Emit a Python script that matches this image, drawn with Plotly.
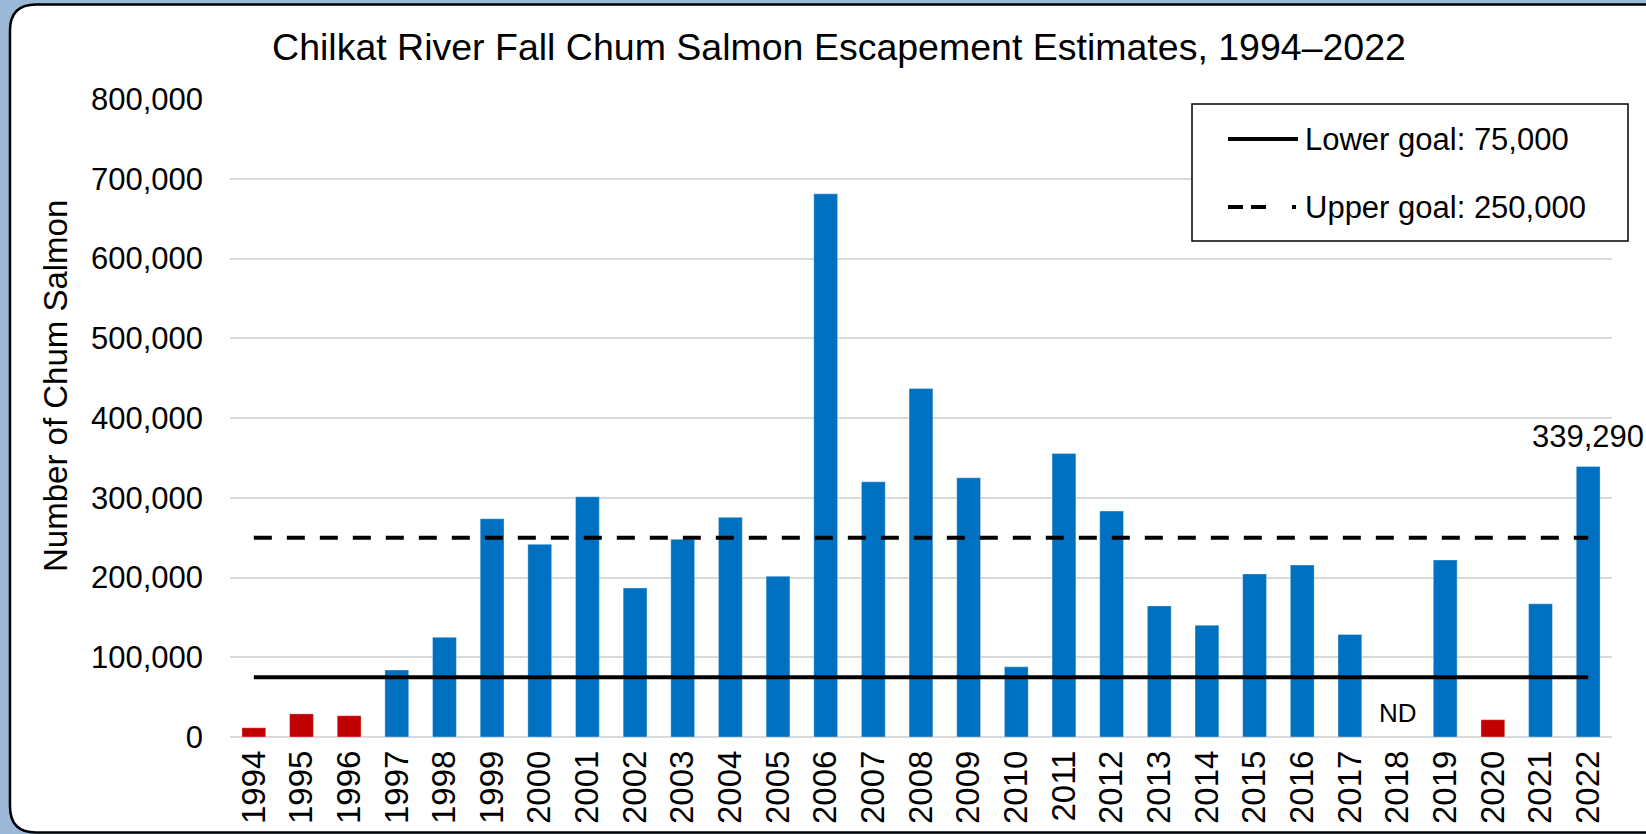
import plotly.graph_objects as go

# data
years = [str(y) for y in range(1994, 2023)]
escapement = [
    11600, 29000, 26700, 84000, 125000, 273700, 241600, 301200, 186900, 247900,
    275400, 201600, 681100, 320000, 437000, 325000, 88000, 355600, 283300, 164400,
    140200, 204500, 215700, 128500, None, 222000, 21700, 167000, 339290,
]
lower_goal = 75000
upper_goal = 250000
y_ticks = [0, 100000, 200000, 300000, 400000, 500000, 600000, 700000, 800000]

BLUE = "#0070C0"
RED = "#C00000"
BG = "#9bb8d9"
FONT = "Liberation Sans, Arial, sans-serif"

W, H = 1646, 834
L, R, T, B = 230, 34, 99, 97


def px_x(x):
    return (x - L) / (W - L - R)


def px_y(y):
    return (H - B - y) / (H - T - B)


bar_colors = [RED if (v is not None and v < lower_goal) else BLUE for v in escapement]

fig = go.Figure()
fig.add_trace(
    go.Bar(
        x=years,
        y=escapement,
        marker=dict(color=bar_colors, line=dict(color="rgba(255,255,255,0.35)", width=1)),
        hovertemplate="%{x}: %{y:,}<extra></extra>",
        showlegend=False,
    )
)
fig.add_trace(
    go.Scatter(
        x=years,
        y=[lower_goal] * len(years),
        mode="lines",
        line=dict(color="black", width=4),
        name=f"Lower goal: {lower_goal:,}",
        showlegend=False,
    )
)
fig.add_trace(
    go.Scatter(
        x=years,
        y=[upper_goal] * len(years),
        mode="lines",
        line=dict(color="black", width=4, dash="18px,15px"),
        name=f"Upper goal: {upper_goal:,}",
        showlegend=False,
    )
)

# white rounded panel on blue background
pl, pt, pb, pr, rad = 10, 4.5, 832.5, 1700, 26
pts = [
    ("M", [(pl + rad, pt)]),
    ("L", [(pr, pt)]),
    ("L", [(pr, pb)]),
    ("L", [(pl + rad, pb)]),
    ("Q", [(pl, pb), (pl, pb - rad)]),
    ("L", [(pl, pt + rad)]),
    ("Q", [(pl, pt), (pl + rad, pt)]),
]
path = " ".join(
    cmd + " ".join(f"{px_x(a):.5f},{px_y(b):.5f}" for a, b in coords) for cmd, coords in pts
) + " Z"

row1, row2 = 139, 207
shapes = [
    dict(type="path", path=path, xref="paper", yref="paper", layer="below",
         fillcolor="white", line=dict(color="black", width=2.5)),
    # legend box
    dict(type="rect", xref="paper", yref="paper",
         x0=px_x(1192), x1=px_x(1628), y0=px_y(241), y1=px_y(104),
         fillcolor="white", line=dict(color="black", width=1.5)),
    dict(type="line", xref="paper", yref="paper",
         x0=px_x(1228), x1=px_x(1298), y0=px_y(row1), y1=px_y(row1),
         line=dict(color="black", width=4)),
    dict(type="line", xref="paper", yref="paper",
         x0=px_x(1228), x1=px_x(1298), y0=px_y(row2), y1=px_y(row2),
         line=dict(color="black", width=4, dash="15px,8px,15px,26px,4px")),
]

annotations = [
    dict(text=f"Lower goal: {lower_goal:,}", xref="paper", yref="paper",
         x=px_x(1303), y=px_y(row1), xanchor="left", yanchor="middle",
         showarrow=False, font=dict(size=31, color="black")),
    dict(text=f"Upper goal: {upper_goal:,}", xref="paper", yref="paper",
         x=px_x(1303), y=px_y(row2), xanchor="left", yanchor="middle",
         showarrow=False, font=dict(size=31, color="black")),
    # category axis: annotation x is the category index
    dict(text=f"{escapement[-1]:,}", x=len(years) - 1, y=escapement[-1],
         xanchor="center", yanchor="middle", yshift=30,
         showarrow=False, font=dict(size=31, color="black")),
    dict(text="ND", x=years.index("2018"), y=0,
         xanchor="center", yanchor="middle", yshift=24,
         showarrow=False, font=dict(size=26, color="black")),
    dict(text="Number of Chum Salmon", xref="paper", yref="paper",
         x=px_x(55), y=px_y(386), xanchor="center", yanchor="middle",
         textangle=-90, showarrow=False, font=dict(size=33, color="black")),
]

fig.update_layout(
    width=W,
    height=H,
    margin=dict(l=L, r=R, t=T, b=B, autoexpand=False),
    paper_bgcolor=BG,
    plot_bgcolor="rgba(0,0,0,0)",
    font=dict(family=FONT, color="black"),
    title=dict(
        text="Chilkat River Fall Chum Salmon Escapement Estimates, 1994\u20132022",
        font=dict(size=37.5, color="black"),
        x=839 / W, xanchor="center", xref="container",
        y=1 - 47 / H, yanchor="middle", yref="container",
    ),
    bargap=0.5,
    shapes=shapes,
    annotations=annotations,
    showlegend=False,
)
fig.update_xaxes(
    type="category",
    range=[-0.5, len(years) - 0.5],
    tickangle=-90,
    tickfont=dict(size=33),
    ticklabelstandoff=6,
    showgrid=False,
    showline=False,
)
fig.update_yaxes(
    range=[0, 800000],
    tickvals=y_ticks,
    tickformat=",d",
    tickfont=dict(size=31),
    ticklabelstandoff=26,
    showgrid=True,
    gridcolor="#d9d9d9",
    gridwidth=2,
    zeroline=True,
    zerolinecolor="#d9d9d9",
    zerolinewidth=2,
    showline=False,
)

fig.write_html(
    "out.html",
    config={"displayModeBar": False},
    post_script=f"document.body.style.margin='0';document.body.style.background='{BG}';",
)
